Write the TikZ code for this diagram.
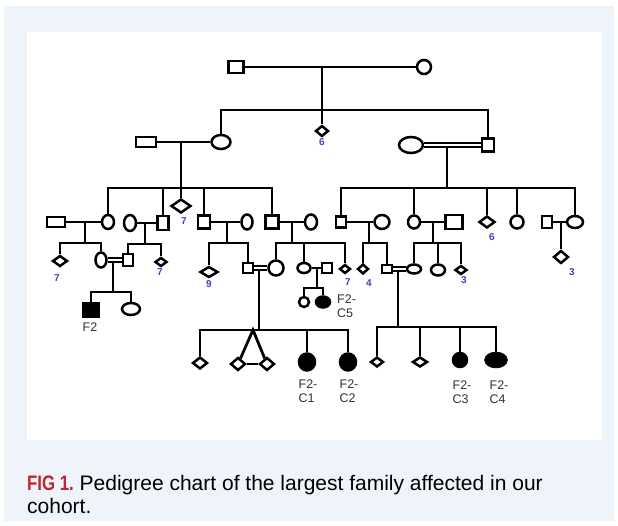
\documentclass[tikz,border=0pt]{standalone}
\usepackage{fontspec}
\setmainfont{Liberation Sans}
\usetikzlibrary{shapes.geometric}
\definecolor{panelbg}{RGB}{239,244,251}
\definecolor{numblue}{RGB}{64,64,196}
\definecolor{labelgray}{RGB}{50,50,50}
\definecolor{figred}{RGB}{192,36,52}

\begin{document}
\begin{tikzpicture}[x=1pt, y=-1pt,
    male/.style={rectangle, draw, line width=2.5pt, inner sep=0pt, minimum width=12, minimum height=12},
    female/.style={ellipse, draw, line width=2.5pt, inner sep=0pt, minimum width=13, minimum height=13},
    unknown/.style={diamond, draw, line width=2.5pt, inner sep=0pt, minimum width=13, minimum height=10},
    affected/.style={fill=black},
    num/.style={text=numblue, font=\fontsize{10}{10}\selectfont\bfseries, inner sep=0pt},
    idlabel/.style={text=labelgray, font=\fontsize{12.5}{14}\selectfont, align=left, inner sep=0pt, anchor=north},
    link/.style={line width=2.8pt},
    cons/.style={double, double distance=2.6pt, line width=1.8pt}
]
    \useasboundingbox (0,0) rectangle (618,526);
    \fill[panelbg] (4,6) rectangle (614,521);
    \fill[white] (27,32) rectangle (602,440);

    \node[male, minimum width=15] (g1m) at (236,67) {};
    \node[female, minimum width=14, minimum height=14] (g1f) at (424,67) {};
    \coordinate (j1) at (322,67);
    \coordinate (s1) at (322,110);

    \node[male, minimum width=20, minimum height=10] (g2m1) at (146,142) {};
    \node[female, minimum width=19, minimum height=14] (g2f1) at (221,142) {};
    \node[unknown, minimum width=13, minimum height=11] (g2u) at (322,131) {};
    \node[num] (n1) at (322,142) {6};
    \node[female, minimum width=24, minimum height=16] (g2f2) at (411,145) {};
    \node[male, minimum width=12, minimum height=13] (g2m2) at (488,145) {};
    \coordinate (j2) at (181,142);
    \coordinate (s2) at (181,188);
    \coordinate (j3) at (447,145);
    \coordinate (s3) at (447,188);

    \node[male, minimum width=18, minimum height=10] (g3m1) at (56,222) {};
    \node[female, minimum width=12, minimum height=14] (g3f1) at (108,222) {};
    \node[female, minimum width=12, minimum height=16] (g3f2) at (130,223) {};
    \node[male, minimum width=11, minimum height=14] (g3m2) at (163,223) {};
    \node[unknown, minimum width=20, minimum height=14] (g3u1) at (181,206) {};
    \node[num] (n2) at (184,221) {7};
    \node[male, minimum width=12, minimum height=13] (g3m3) at (204,222) {};
    \node[female, minimum width=11, minimum height=15] (g3f3) at (247,222) {};
    \node[male, minimum width=13, minimum height=13] (g3m4) at (272,222) {};
    \node[female, minimum width=12, minimum height=15] (g3f4) at (311,222) {};
    \node[male, minimum width=10, minimum height=11] (g3m5) at (341,222) {};
    \node[female, minimum width=15, minimum height=14] (g3f8) at (382,222) {};
    \node[female, minimum width=12, minimum height=13] (g3f5) at (414,222) {};
    \node[male, minimum width=17, minimum height=14] (g3m6) at (454,222) {};
    \node[unknown, minimum width=16, minimum height=12] (g3u2) at (487,222) {};
    \node[num] (n3) at (492,237) {6};
    \node[female, minimum width=13, minimum height=13] (g3f6) at (517,222) {};
    \node[male, minimum width=10, minimum height=12] (g3m7) at (547,222) {};
    \node[female, minimum width=16, minimum height=12] (g3f7) at (575,222) {};
    \coordinate (j4) at (85,222);
    \coordinate (s4) at (85,243);
    \coordinate (j5) at (145,223);
    \coordinate (s5) at (145,244);
    \coordinate (j7) at (227,222);
    \coordinate (s7) at (227,243);
    \coordinate (j8) at (292,222);
    \coordinate (s8) at (292,243);
    \coordinate (j11) at (369,222);
    \coordinate (s11) at (369,243);
    \coordinate (j12) at (433,222);
    \coordinate (s12) at (433,243);
    \coordinate (j14) at (561,222);

    \node[unknown, minimum width=15, minimum height=11] (g4u1) at (60,261) {};
    \node[num] (n4) at (57,278) {7};
    \node[female, minimum width=11, minimum height=15] (g4f1) at (101,260) {};
    \node[male, minimum width=10, minimum height=12] (g4m1) at (128,260) {};
    \node[unknown, minimum width=12, minimum height=9] (g4u2) at (161,262) {};
    \node[num] (n5) at (160,272) {7};
    \node[unknown, minimum width=18, minimum height=11] (g4u3) at (209,272) {};
    \node[num] (n6) at (209,284) {9};
    \node[male, minimum width=10, minimum height=10] (g4m2) at (248,268) {};
    \node[female, minimum width=15, minimum height=15] (g4f2) at (276,268) {};
    \node[female, minimum width=13, minimum height=10] (g4f3) at (304,268) {};
    \node[male, minimum width=10, minimum height=10] (g4m3) at (327,268) {};
    \node[unknown, minimum width=11, minimum height=9] (g4u4) at (345,269) {};
    \node[num] (n7) at (348,282) {7};
    \node[unknown, minimum width=11, minimum height=10] (g4u5) at (363,269) {};
    \node[num] (n8) at (369,283) {4};
    \node[male, minimum width=10, minimum height=8] (g4m4) at (387,269) {};
    \node[female, minimum width=14, minimum height=9] (g4f4) at (414,269) {};
    \node[female, minimum width=14, minimum height=11] (g4f5) at (438,270) {};
    \node[unknown, minimum width=12, minimum height=9] (g4u6) at (461,270) {};
    \node[num] (n9) at (464,280) {3};
    \node[unknown, minimum width=15, minimum height=13] (g4u7) at (561,257) {};
    \node[num] (n10) at (572,272) {3};
    \coordinate (j6) at (113,260);
    \coordinate (s6) at (113,292);
    \coordinate (j9) at (259,268);
    \coordinate (s9) at (259,330);
    \coordinate (tw) at (253,330);
    \coordinate (j10) at (317,268);
    \coordinate (s10) at (317,288);
    \coordinate (j13) at (398,269);
    \coordinate (s13) at (398,327);

    \node[male, affected, minimum width=15, minimum height=13] (g5m1) at (91,310) {};
    \node[female, minimum width=18, minimum height=12] (g5f1) at (131,309) {};
    \node[idlabel] (t1) at (90,323) {F2};
    \node[female, minimum width=10, minimum height=10] (g5f4) at (304,302) {};
    \node[female, affected, minimum width=14, minimum height=11] (g5f5) at (323,302) {};
    \node[idlabel, anchor=north west] (t2) at (337,295) {F2-\\C5};
    \node[unknown, minimum width=15, minimum height=12] (g5u1) at (200,363) {};
    \node[unknown, minimum width=15, minimum height=13] (g5u2) at (238,364) {};
    \node[unknown, minimum width=15, minimum height=13] (g5u3) at (267,364) {};
    \node[female, affected, minimum width=16, minimum height=17] (g5f2) at (307,362) {};
    \node[female, affected, minimum width=16, minimum height=17] (g5f3) at (348,362) {};
    \node[idlabel] (t3) at (308,380) {F2-\\C1};
    \node[idlabel] (t4) at (349,380) {F2-\\C2};
    \node[unknown, minimum width=13, minimum height=10] (g5u4) at (377,362) {};
    \node[unknown, minimum width=15, minimum height=10] (g5u5) at (420,362) {};
    \node[female, affected, minimum width=14, minimum height=14] (g5f6) at (460,360) {};
    \node[female, affected, minimum width=21, minimum height=14] (g5f7) at (496,360) {};
    \node[idlabel] (t5) at (462,381) {F2-\\C3};
    \node[idlabel] (t6) at (499,381) {F2-\\C4};

    \draw[link] (g1m) -- (g1f);
    \draw[link] (j1) -- (s1);
    \draw[link] (g2f1) |- (s1) -| (g2m2);
    \draw[link] (g2u) -- (g2u |- s1);

    \draw[link] (g2m1) -- (g2f1);
    \draw[link] (j2) -- (s2);
    \draw[link] (g3f1) |- (s2) -| (g3m4);
    \draw[link] (g3m2) -- (g3m2 |- s2);
    \draw[link] (g3u1) -- (g3u1 |- s2);
    \draw[link] (g3m3) -- (g3m3 |- s2);

    \draw[link] (j3) -- (s3);
    \draw[cons] (g2f2) -- (g2m2);
    \draw[link] (g3m5) |- (s3) -| (g3f7);
    \draw[link] (g3f5) -- (g3f5 |- s3);
    \draw[link] (g3u2) -- (g3u2 |- s3);
    \draw[link] (g3f6) -- (g3f6 |- s3);

    \draw[link] (g3m1) -- (g3f1);
    \draw[link] (j4) -- (s4);
    \draw[link] (g4u1) |- (s4) -| (g4f1);
    \draw[link] (g3f2) -- (g3m2);
    \draw[link] (j5) -- (s5);
    \draw[link] (g4m1) |- (s5) -| (g4u2);
    \draw[link] (j6) -- (s6);
    \draw[cons] (g4f1) -- (g4m1);
    \draw[link] (g5m1) |- (s6) -| (g5f1);

    \draw[link] (g3m3) -- (g3f3);
    \draw[link] (j7) -- (s7);
    \draw[link] (g4u3) |- (s7) -| (g4m2);
    \draw[link] (g3m4) -- (g3f4);
    \draw[link] (j8) -- (s8);
    \draw[link] (g4f2) |- (s8) -| (g4u4);
    \draw[link] (g4f3) -- (g4f3 |- s8);
    \draw[link] (j9) -- (s9);
    \draw[cons] (g4m2) -- (g4f2);
    \draw[link] (g5u1) |- (s9) -| (g5f3);
    \draw[link] (g5f2) -- (g5f2 |- s9);
    \draw[link] (g5u2) -- (tw) -- (g5u3);
    \draw[link] (g5u2) -- (g5u3);
    \draw[link] (g4f3) -- (g4m3);
    \draw[link] (j10) -- (s10);
    \draw[link] (g5f4) |- (s10) -| (g5f5);

    \draw[link] (g3m5) -- (g3f8);
    \draw[link] (j11) -- (s11);
    \draw[link] (g4u5) |- (s11) -| (g4m4);
    \draw[link] (g3f5) -- (g3m6);
    \draw[link] (j12) -- (s12);
    \draw[link] (g4f4) |- (s12) -| (g4u6);
    \draw[link] (g4f5) -- (g4f5 |- s12);
    \draw[link] (j13) -- (s13);
    \draw[cons] (g4m4) -- (g4f4);
    \draw[link] (g5u4) |- (s13) -| (g5f7);
    \draw[link] (g5u5) -- (g5u5 |- s13);
    \draw[link] (g5f6) -- (g5f6 |- s13);
    \draw[link] (g3m7) -- (g3f7);
    \draw[link] (j14) -- (g4u7);

    \node[anchor=north west, align=left, inner sep=0pt, font=\fontsize{21}{23}\selectfont] (caption) at (27,475)
        {\textcolor{figred}{\scalebox{0.8}[1]{\textbf{FIG 1.}}} Pedigree chart of the largest family affected in our\\cohort.};
\end{tikzpicture}
\end{document}
